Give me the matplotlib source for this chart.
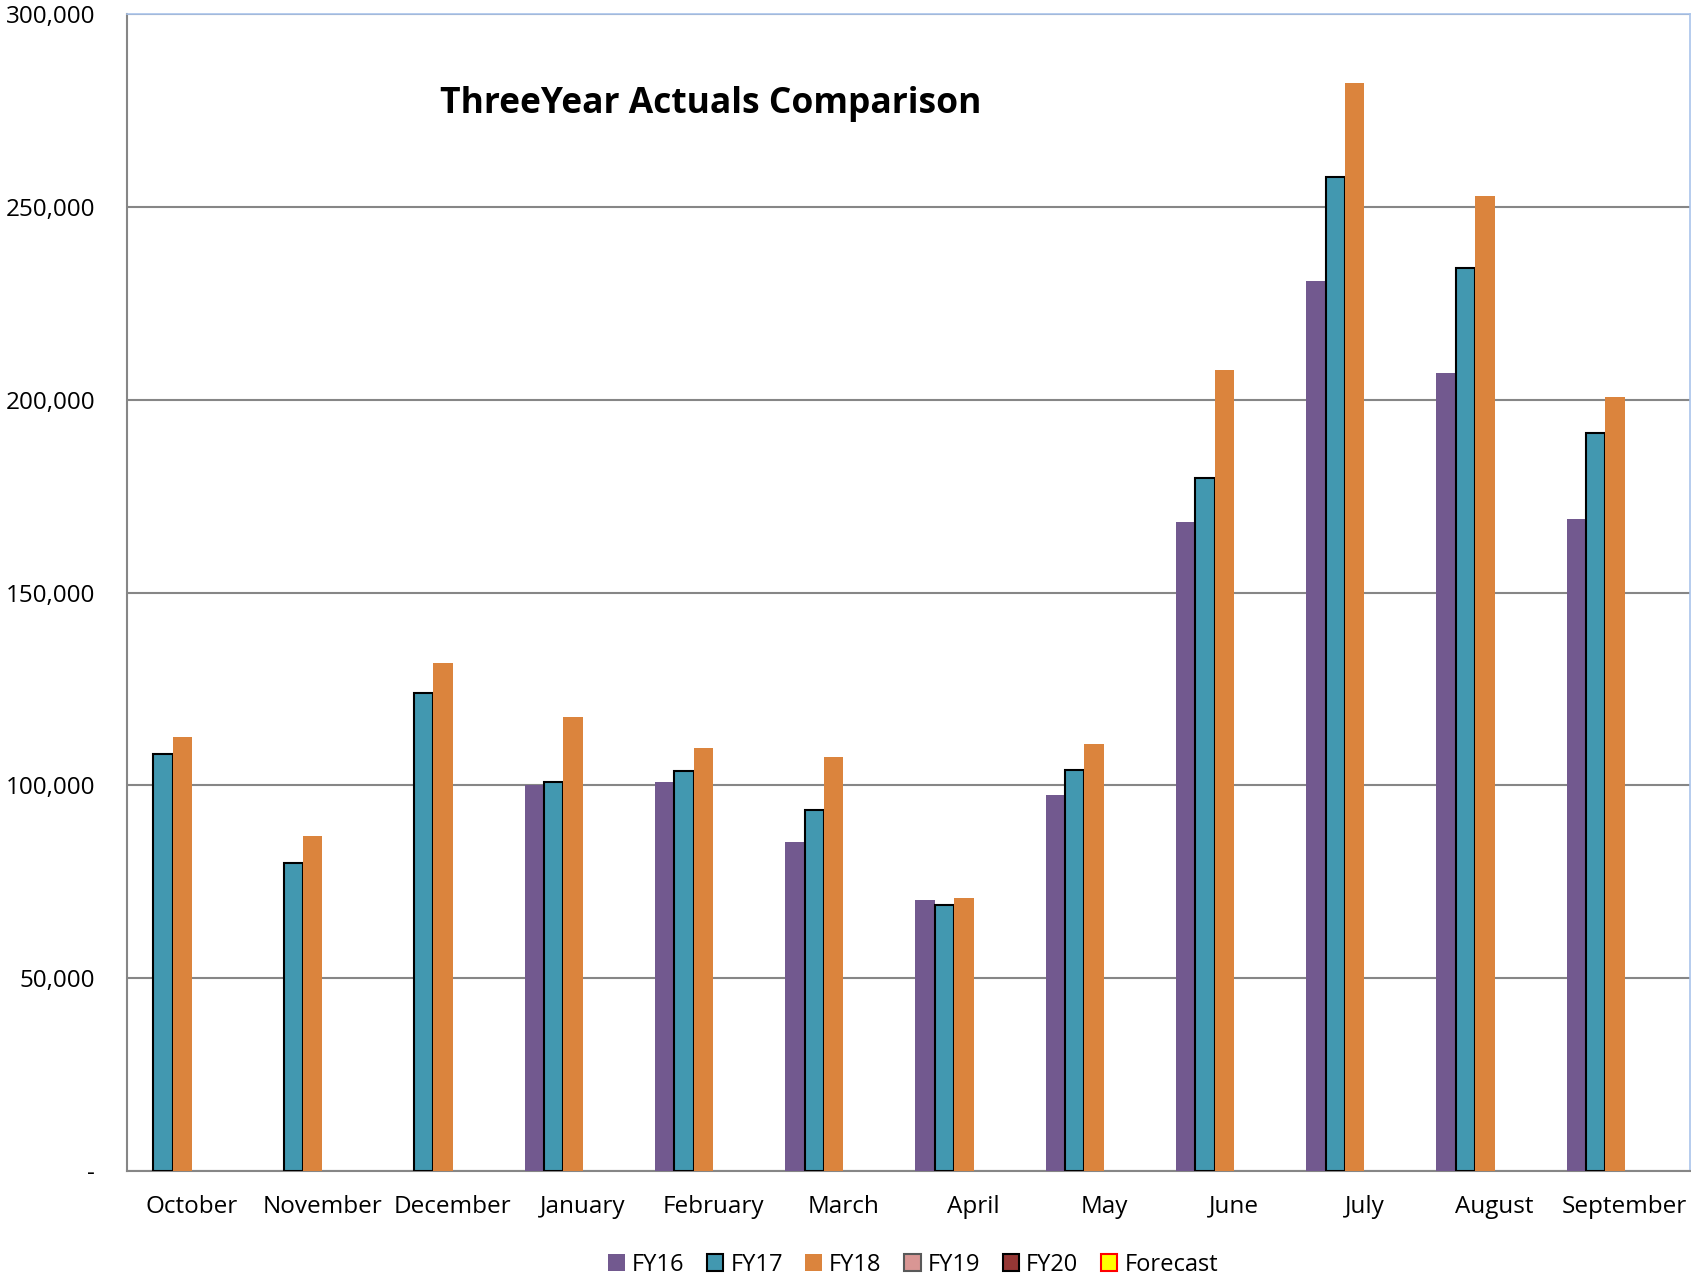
import numpy as np
from matplotlib import pyplot as plt
from matplotlib.ticker import FuncFormatter

months = ['October', 'November', 'December', 'January', 'February', 'March',
          'April', 'May', 'June', 'July', 'August', 'September']

fy16 = [np.nan, np.nan, np.nan, 100000, 100800, 85200,
        70400, 97500, 168400, 230700, 207000, 169000]
fy17 = [108100, 79900, 124000, 100800, 103600, 93600,
        69000, 103900, 179600, 257800, 234100, 191300]
fy18 = [112600, 86900, 131800, 117600, 109800, 107300,
        70900, 110600, 207800, 282100, 252800, 200800]
fy19 = [np.nan] * 12
fy20 = [np.nan] * 12
forecast = [np.nan] * 12

series = [
    ('FY16', fy16, '#72598f', 'none'),
    ('FY17', fy17, '#4298b0', 'black'),
    ('FY18', fy18, '#db843d', 'none'),
    ('FY19', fy19, '#d99694', '#595959'),
    ('FY20', fy20, '#953735', 'black'),
    ('Forecast', forecast, '#ffff00', 'red'),
]

plt.rcParams['font.family'] = ['Open Sans', 'DejaVu Sans']

fig = plt.figure(figsize=(16.91, 12.78), dpi=100)
ax = fig.add_axes([0.0751, 0.0837, 0.9243, 0.9053])

x = np.arange(len(months))
width = 0.149
offsets = (np.arange(len(series)) - (len(series) - 1) / 2) * width

for (name, vals, color, edge), off in zip(series, offsets):
    lw = 1.5 if edge != 'none' else 0
    ax.bar(x + off, vals, width, color=color, edgecolor=edge,
           linewidth=lw, label=name, zorder=3)

ax.set_xlim(-0.5, len(months) - 0.5)
ax.set_ylim(0, 300000)
ax.set_yticks(np.arange(0, 300001, 50000))
ax.yaxis.set_major_formatter(
    FuncFormatter(lambda v, p: '-' if v == 0 else f'{int(v):,}'))
ax.set_xticks(x)
ax.set_xticklabels(months)
ax.tick_params(axis='both', length=0, labelsize=17.5)
ax.tick_params(axis='x', pad=17)
ax.tick_params(axis='y', pad=23)
ax.grid(axis='y', color='#868686', linewidth=1.5, zorder=0)

for side in ['left', 'bottom']:
    ax.spines[side].set_color('#868686')
    ax.spines[side].set_linewidth(1.5)
for side in ['top', 'right']:
    ax.spines[side].set_color('#a9c4eb')
    ax.spines[side].set_linewidth(1.2)

ax.text(0.2, 0.922, 'ThreeYear Actuals Comparison', transform=ax.transAxes,
        fontsize=25.5, fontweight='bold', ha='left', va='center')

fig.legend(loc='center', bbox_to_anchor=(0.54, 0.0105), ncol=6, frameon=False,
           fontsize=17, handlelength=0.7, handleheight=0.7,
           handletextpad=0.3, columnspacing=0.95)

fig.savefig('out.png', dpi=100)
